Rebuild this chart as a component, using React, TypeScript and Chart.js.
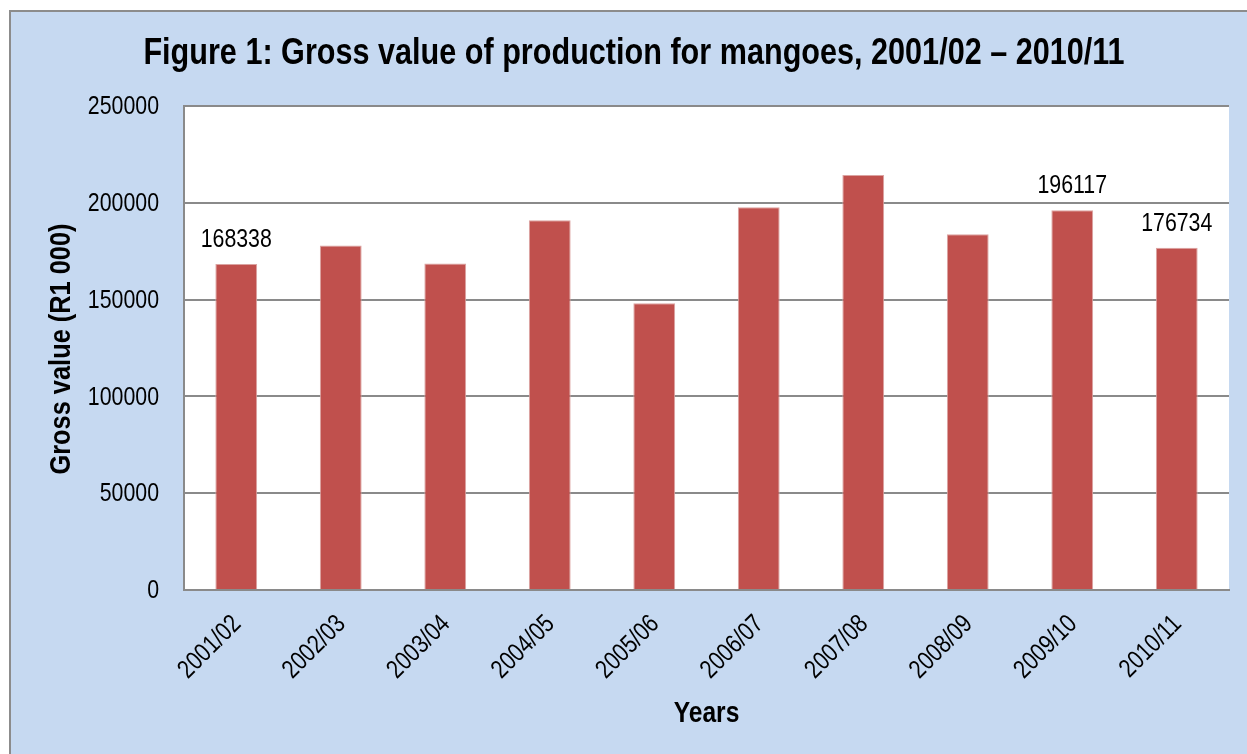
import React, { useEffect, useRef } from 'react';
import { Chart, registerables } from 'chart.js';

Chart.register(...registerables);

const titleText = 'Figure 1: Gross value of production for mangoes, 2001/02 – 2010/11';
const yAxisTitle = 'Gross value (R1 000)';
const xAxisTitle = 'Years';

const categories = ['2001/02', '2002/03', '2003/04', '2004/05', '2005/06', '2006/07', '2007/08', '2008/09', '2009/10', '2010/11'];
const grossValues = [168338, 178000, 168600, 191000, 148100, 197700, 214300, 183800, 196117, 176734];
const valueLabels: (string | null)[] = ['168338', null, null, null, null, null, null, null, '196117', '176734'];
const yTickValues = [0, 50000, 100000, 150000, 200000, 250000];
const yTickLabels = ['0', '50000', '100000', '150000', '200000', '250000'];

const yMin = 0;
const yMax = 250000;
const yStep = 50000;

const FONT = "'Liberation Sans', Arial, sans-serif";
const NARROW = 0.82; // emulate Arial Narrow by horizontal compression
const CANVAS_W = 1236;
const CANVAS_H = 742;

function drawText(
  ctx: CanvasRenderingContext2D,
  text: string,
  x: number,
  y: number,
  font: string,
  align: CanvasTextAlign,
  baseline: CanvasTextBaseline,
  rotation = 0,
  sx = NARROW
) {
  ctx.save();
  ctx.translate(x, y);
  if (rotation) ctx.rotate(rotation);
  ctx.scale(sx, 1);
  ctx.font = font;
  ctx.fillStyle = '#000000';
  ctx.textAlign = align;
  ctx.textBaseline = baseline;
  ctx.fillText(text, 0, 0);
  ctx.restore();
}

const plotBackground = {
  id: 'plotBackground',
  beforeDraw(chart: any) {
    const { ctx, chartArea } = chart;
    ctx.save();
    ctx.fillStyle = '#ffffff';
    ctx.fillRect(chartArea.left, chartArea.top, chartArea.right - chartArea.left, chartArea.bottom - chartArea.top);
    ctx.restore();
  },
};

const textLayer = {
  id: 'textLayer',
  afterDraw(chart: any) {
    const { ctx, chartArea, scales } = chart;
    const xs = scales.x;
    const ys = scales.y;
    const cx = (chartArea.left + chartArea.right) / 2;

    // title
    drawText(ctx, titleText, 623, 52, `bold 36px ${FONT}`, 'center', 'alphabetic', 0, 0.85);

    // y tick labels
    yTickValues.forEach((v, i) => {
      drawText(ctx, yTickLabels[i], chartArea.left - 25, ys.getPixelForValue(v) + 1, `26px ${FONT}`, 'right', 'middle');
    });

    // x tick labels (rotated 45°)
    categories.forEach((c, i) => {
      const px = xs.getPixelForValue(i) + 6;
      drawText(ctx, c, px, chartArea.bottom + 35, `26px ${FONT}`, 'right', 'alphabetic', -Math.PI / 4);
    });

    // axis titles
    drawText(ctx, yAxisTitle, 51, (chartArea.top + chartArea.bottom) / 2 + 1, `bold 29px ${FONT}`, 'center', 'middle', -Math.PI / 2, 0.875);
    drawText(ctx, xAxisTitle, cx, 710, `bold 30px ${FONT}`, 'center', 'alphabetic');

    // value labels
    const meta = chart.getDatasetMeta(0);
    meta.data.forEach((el: any, i: number) => {
      const txt = valueLabels[i];
      if (!txt) return;
      drawText(ctx, txt, el.x, el.y - 17, `26px ${FONT}`, 'center', 'alphabetic');
    });
  },
};

export default function App() {
  const ref = useRef<HTMLCanvasElement | null>(null);

  useEffect(() => {
    if (!ref.current) return;
    const chart = new Chart(ref.current, {
      type: 'bar',
      data: {
        labels: categories,
        datasets: [
          {
            data: grossValues,
            backgroundColor: '#C0504D',
            borderColor: '#dba3a1',
            borderWidth: 1,
            barPercentage: 0.4,
            categoryPercentage: 1,
          },
        ],
      },
      options: {
        responsive: false,
        animation: false,
        devicePixelRatio: 1,
        layout: { padding: { left: 0, right: 18, top: 94, bottom: 0 } },
        plugins: {
          legend: { display: false },
          tooltip: { enabled: false },
          title: { display: false },
        },
        scales: {
          x: {
            grid: { display: false, drawTicks: false },
            border: { display: true, color: '#8a8a8a', width: 2 },
            ticks: { display: false, autoSkip: false },
            title: { display: false },
            afterFit(scale: any) {
              scale.height = 164;
            },
          },
          y: {
            min: yMin,
            max: yMax,
            grid: { display: true, color: '#8a8a8a', lineWidth: 2, drawTicks: false },
            border: { display: true, color: '#8a8a8a', width: 2 },
            ticks: { display: false, stepSize: yStep },
            title: { display: false },
            afterFit(scale: any) {
              scale.width = 173;
            },
          },
        },
      },
      plugins: [plotBackground, textLayer],
    });
    return () => chart.destroy();
  }, []);

  return (
    <div
      style={{
        position: 'fixed',
        left: 9,
        top: 10,
        width: 1260,
        height: 770,
        background: '#C6D9F1',
        borderTop: '2px solid #8c8c8c',
        borderLeft: '2px solid #8c8c8c',
      }}
    >
      <canvas ref={ref} width={CANVAS_W} height={CANVAS_H} style={{ display: 'block', width: CANVAS_W, height: CANVAS_H }} />
    </div>
  );
}
